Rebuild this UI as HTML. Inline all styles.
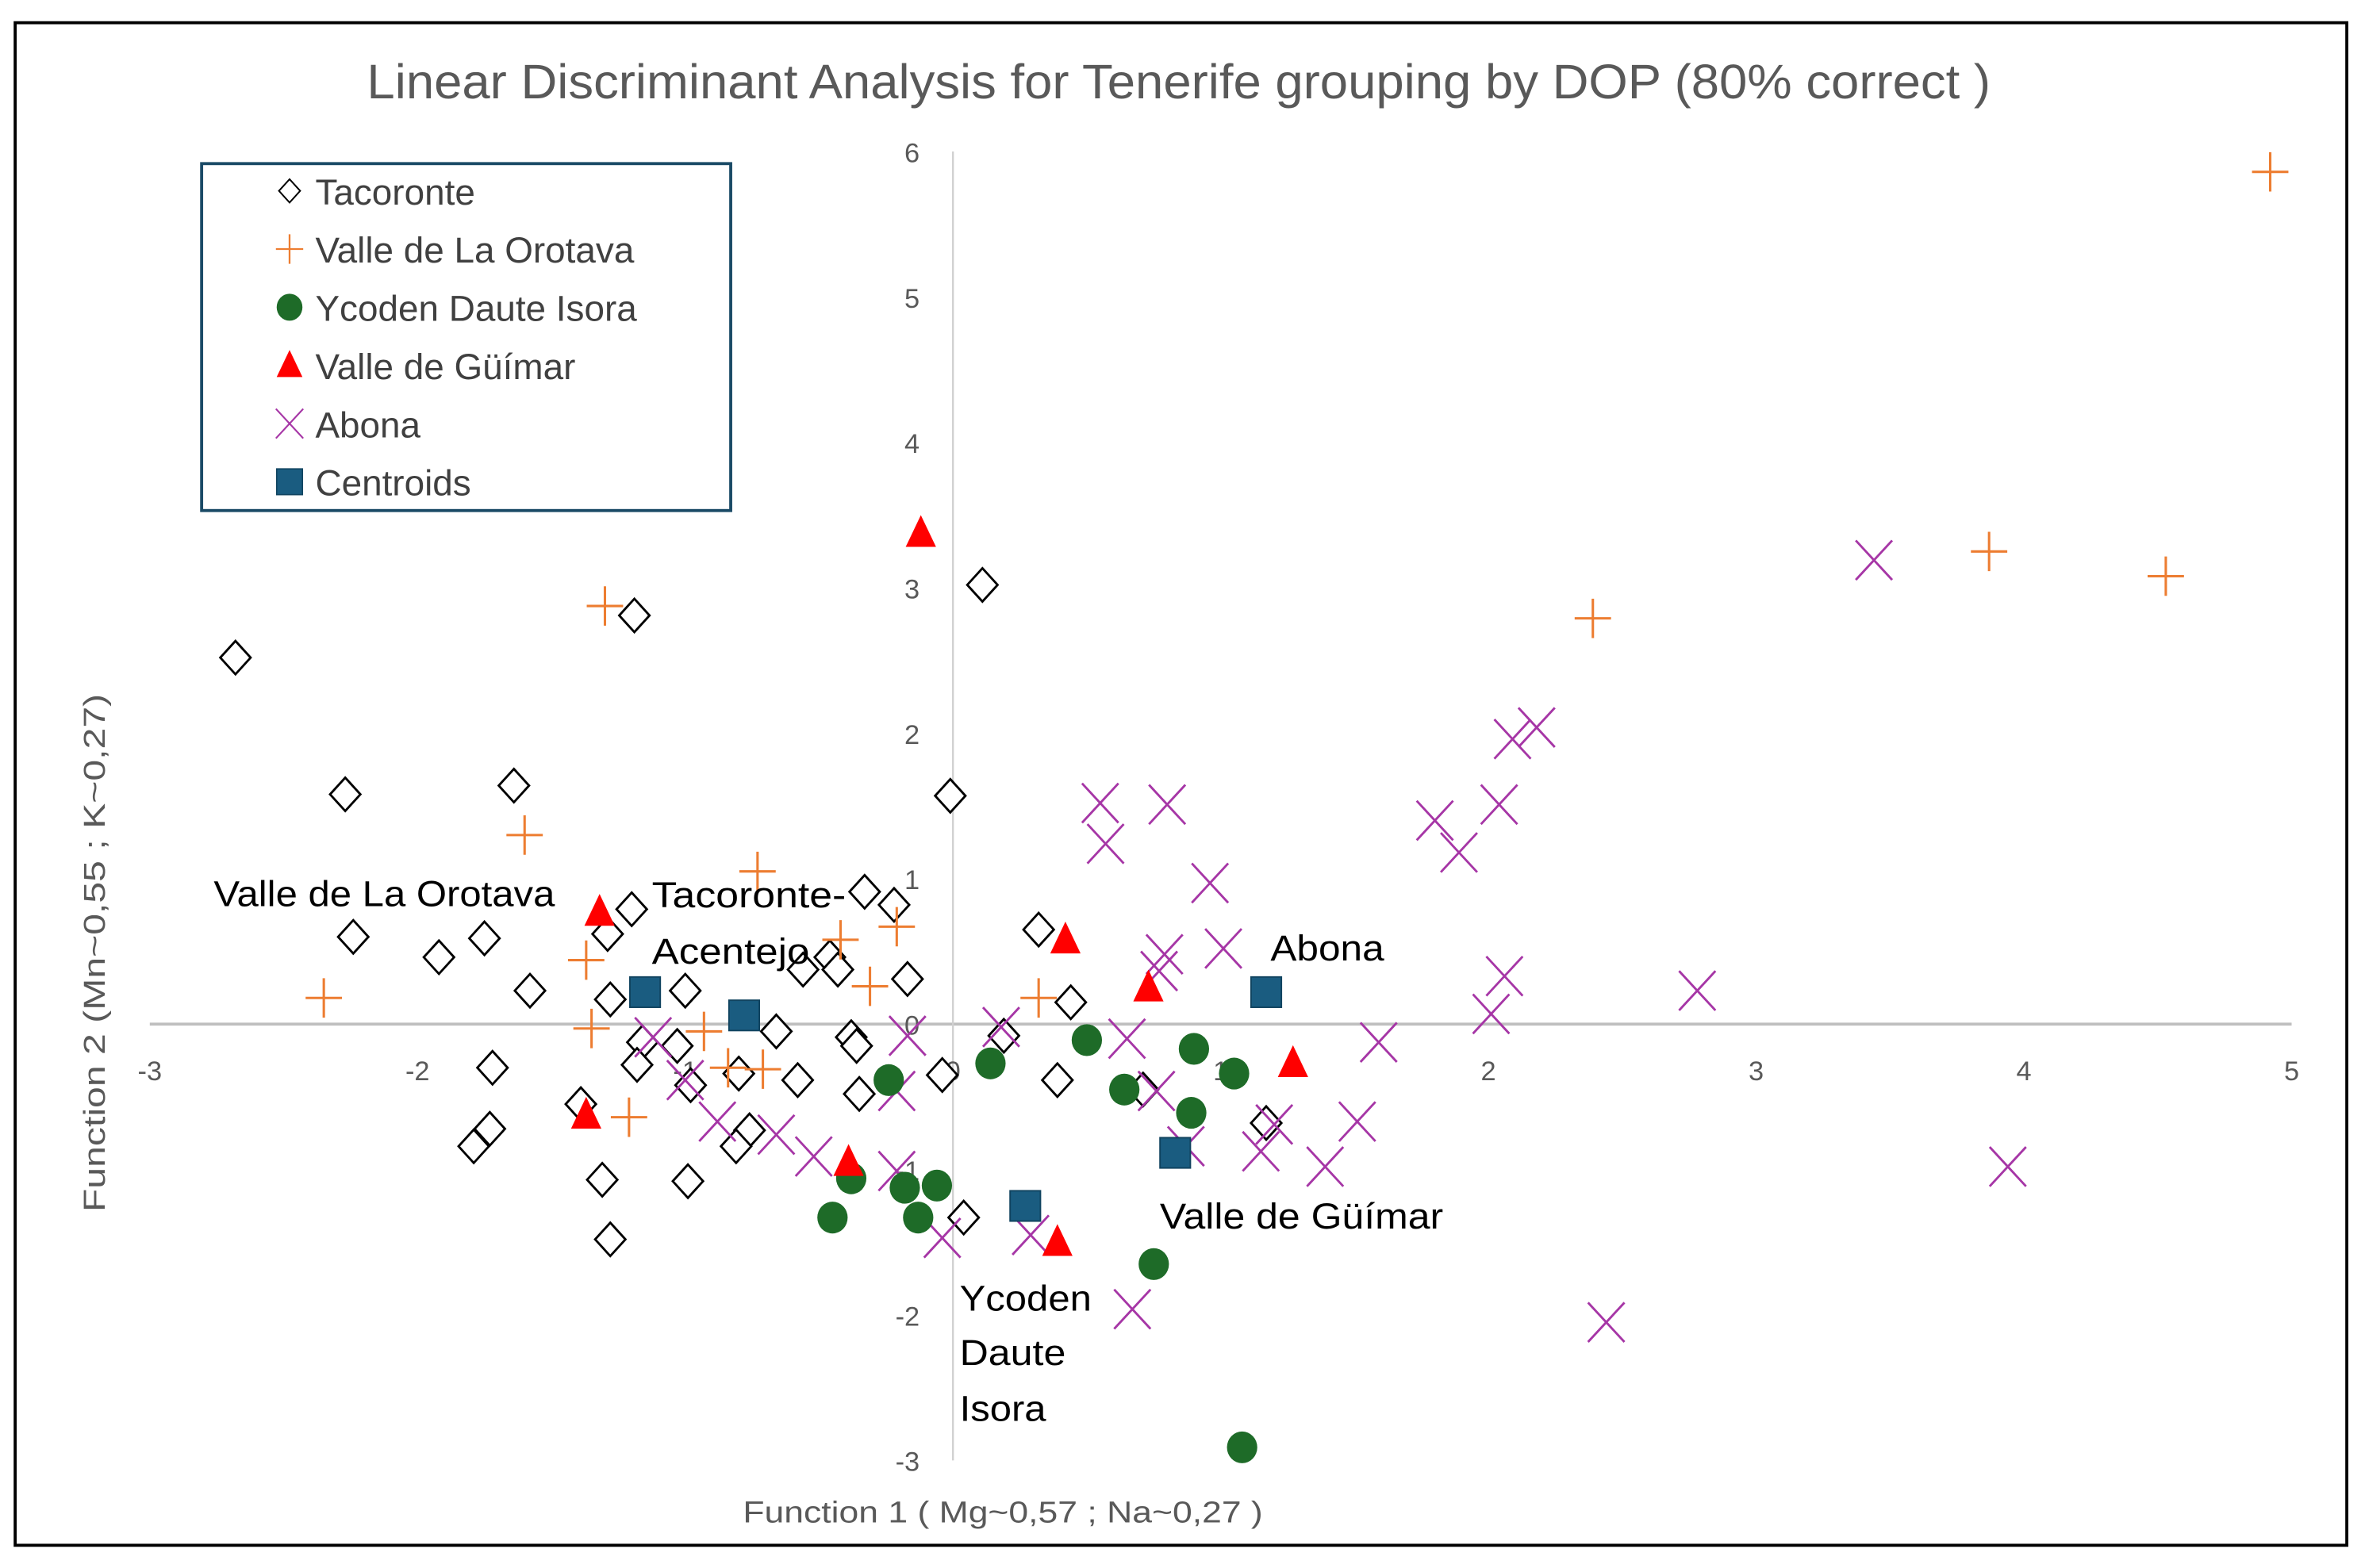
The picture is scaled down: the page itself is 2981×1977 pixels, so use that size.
<!DOCTYPE html>
<html><head><meta charset="utf-8"><style>
html,body{margin:0;padding:0;background:#fff;}
svg{display:block;}
text{font-family:"Liberation Sans",sans-serif;}
</style></head><body>
<svg id="chart" width="2981" height="1977" viewBox="0 0 1560 1035" preserveAspectRatio="none" xmlns="http://www.w3.org/2000/svg">
<rect x="10" y="15" width="1538" height="1005" fill="#fff" stroke="#000" stroke-width="2"/>
<text x="242" y="65" font-size="32" fill="#595959" textLength="1071" lengthAdjust="spacingAndGlyphs">Linear Discriminant Analysis for Tenerife grouping by DOP (80% correct )</text>
<g id="axes"></g>
<g id="marks"></g>
<g id="labels">
<text x="141" y="598" font-size="24" fill="#000" textLength="225" lengthAdjust="spacingAndGlyphs">Valle de La Orotava</text>
<text x="430" y="599" font-size="24" fill="#000" textLength="128" lengthAdjust="spacingAndGlyphs">Tacoronte-</text>
<text x="430" y="636" font-size="24" fill="#000" textLength="104" lengthAdjust="spacingAndGlyphs">Acentejo</text>
<text x="838" y="634" font-size="24" fill="#000" textLength="75" lengthAdjust="spacingAndGlyphs">Abona</text>
<text x="765" y="811" font-size="24" fill="#000" textLength="187" lengthAdjust="spacingAndGlyphs">Valle de Güímar</text>
<text x="633" y="865" font-size="24" fill="#000" textLength="87" lengthAdjust="spacingAndGlyphs">Ycoden</text>
<text x="633" y="901" font-size="24" fill="#000" textLength="70" lengthAdjust="spacingAndGlyphs">Daute</text>
<text x="633" y="938" font-size="24" fill="#000" textLength="57" lengthAdjust="spacingAndGlyphs">Isora</text>
</g>
<text x="490" y="1005" font-size="20" fill="#595959" textLength="343" lengthAdjust="spacingAndGlyphs">Function 1   ( Mg~0,57 ; Na~0,27 )</text>
<text transform="translate(69,800) rotate(-90)" x="0" y="0" font-size="20" fill="#595959" textLength="342" lengthAdjust="spacingAndGlyphs">Function 2   (Mn~0,55 ;   K~0,27)</text>
<g id="legend">
<rect x="133" y="108" width="349" height="229" fill="#fff" stroke="#1a4a66" stroke-width="2"/>
</g>
</svg>
<script>
const xTicks = [-3,-2,-1,0,1,2,3,4,5];
const yTicks = [-3,-2,-1,0,1,2,3,4,5,6];
const seriesNames = ["Tacoronte","Valle de La Orotava","Ycoden Daute Isora","Valle de Güímar","Abona","Centroids"];
const tacoronteX = [-2.68,-2.27,-1.64,-1.19,0.11,-0.01,-2.24,-1.92,-1.75,-1.58,-1.29,-1.20,-1.28,-1.00,-0.33,-0.22,-0.46,-0.43,-0.56,-0.17,0.32,0.44,0.19,-0.66,-1.16,-1.03,-1.18,-0.98,-0.80,-0.58,-0.38,-0.36,-0.35,-0.04,0.39,0.71,1.17,-1.72,-1.39,-1.73,-1.79,-0.76,-0.81,-1.31,-0.99,-1.28,0.04];
const tacoronteY = [2.52,1.58,1.64,2.81,3.02,1.57,0.60,0.46,0.59,0.23,0.62,0.79,0.17,0.23,0.91,0.82,0.46,0.375,0.375,0.31,0.65,0.15,-0.08,-0.05,-0.125,-0.15,-0.28,-0.42,-0.34,-0.385,-0.09,-0.15,-0.48,-0.35,-0.385,-0.45,-0.68,-0.30,-0.55,-0.72,-0.84,-0.73,-0.84,-1.07,-1.08,-1.48,-1.33];
const orotavaX = [4.92,3.87,4.53,2.39,-1.30,-1.60,-0.73,-2.35,-1.37,-0.42,-0.21,-0.31,0.32,-1.35,-0.93,-0.84,-0.71,-1.21];
const orotavaY = [5.86,3.25,3.08,2.79,2.875,1.30,1.05,0.18,0.44,0.58,0.67,0.26,0.18,-0.03,-0.05,-0.30,-0.31,-0.64];
const ycodenX = [0.50,0.14,0.90,0.64,1.05,0.89,-0.24,-0.38,-0.18,-0.06,-0.45,-0.13,0.75,1.08];
const ycodenY = [-0.11,-0.27,-0.17,-0.45,-0.34,-0.61,-0.385,-1.06,-1.125,-1.11,-1.33,-1.33,-1.65,-2.91];
const guimarX = [-0.12,-1.32,0.42,0.73,1.27,-1.37,-0.39,0.39];
const guimarY = [3.375,0.77,0.58,0.25,-0.27,-0.625,-0.95,-1.50];
const abonaX = [3.44,2.09,2.18,1.80,2.04,1.89,0.55,0.80,0.57,0.96,1.01,0.79,0.77,2.06,2.01,2.78,1.59,0.65,0.18,-0.17,0.76,1.20,1.51,1.15,1.39,0.87,3.94,2.44,0.67,0.29,-0.04,-0.21,-0.21,-0.52,-0.66,-0.88,-1.00,-1.12];
const abonaY = [3.19,1.96,2.04,1.40,1.51,1.18,1.52,1.51,1.24,0.97,0.52,0.48,0.365,0.33,0.07,0.23,-0.125,-0.10,-0.02,-0.08,-0.46,-0.69,-0.67,-0.875,-0.98,-0.84,-0.98,-2.05,-1.96,-1.45,-1.47,-1.01,-0.46,-0.91,-0.76,-0.67,-0.385,-0.09];
const centroidX = [-1.15,-0.78,1.17,0.83,0.27];
const centroidY = [0.22,0.06,0.22,-0.885,-1.25];

const NS = "http://www.w3.org/2000/svg";
const X0 = 628.6, XS = 176.6, Y0 = 676, YS = 96;
function sx(v){ return X0 + XS*v; }
function sy(v){ return Y0 - YS*v; }
function mk(tag, attrs, parent){
  const e = document.createElementNS(NS, tag);
  for (const k in attrs) e.setAttribute(k, attrs[k]);
  parent.appendChild(e);
  return e;
}
const axes = document.getElementById('axes');
let l = mk('line',{x1:sx(-3),x2:sx(5),y1:sy(0),y2:sy(0),stroke:'#bfbfbf','stroke-width':2},axes);


l = mk('line',{x1:sx(0),x2:sx(0),y1:sy(6),y2:sy(-3),stroke:'#d0d0d0','stroke-width':1.2},axes);


xTicks.forEach(v=>{
  const t = mk('text',{x:sx(v),y:sy(0)+37,'font-size':18,fill:'#595959','text-anchor':'middle'},axes);
  t.textContent = v;
  
  
});
yTicks.forEach(v=>{
  const t = mk('text',{x:sx(0)-22,y:sy(v)+7,'font-size':18,fill:'#595959','text-anchor':'end'},axes);
  t.textContent = v;
  
  
});

function diamond(g,x,y){ return mk('path',{d:`M${x} ${y-11}L${x+10} ${y}L${x} ${y+11}L${x-10} ${y}Z`,fill:'#fff',stroke:'#000','stroke-width':1.5},g); }
function plus(g,x,y){ return mk('path',{d:`M${x-12} ${y}H${x+12}M${x} ${y-13}V${y+13}`,stroke:'#ed7d31','stroke-width':1.6,fill:'none'},g); }
function circle(g,x,y){ return mk('ellipse',{cx:x,cy:y,rx:10,ry:10.5,fill:'#1e6b28'},g); }
function tri(g,x,y){ return mk('path',{d:`M${x} ${y-12}L${x+10} ${y+9}L${x-10} ${y+9}Z`,fill:'#ff0000'},g); }
function cross(g,x,y){ return mk('path',{d:`M${x-12} ${y-13}L${x+12} ${y+13}M${x+12} ${y-13}L${x-12} ${y+13}`,stroke:'#a636a6','stroke-width':1.5,fill:'none'},g); }
function square(g,x,y){ return mk('rect',{x:x-10,y:y-10,width:20,height:20,fill:'#1a5c80',stroke:'#10435f','stroke-width':1},g); }

const marks = document.getElementById('marks');
function series(xs, ys, fn, name){
  const g = mk('g',{},marks);
  
  
  xs.forEach((v,i)=>{
    const m = fn(g, sx(v), sy(ys[i]));
    
    
  });
}
series(tacoronteX,tacoronteY,diamond,'tacoronte');
series(orotavaX,orotavaY,plus,'orotava');
series(abonaX,abonaY,cross,'abona');
series(ycodenX,ycodenY,circle,'ycoden');
series(guimarX,guimarY,tri,'guimar');
series(centroidX,centroidY,square,'centroid');

const legend = document.getElementById('legend');
const fns = [diamond,plus,circle,tri,cross,square];
const keys = ['tacoronte','orotava','ycoden','guimar','abona','centroids'];
seriesNames.forEach((n,i)=>{
  const y = 126 + i*38.4;
  const g = mk('g',{},legend);
  
  
  const m = fns[i](g,191,y);
  if(i===0) m.setAttribute('transform',`translate(191 ${y}) scale(0.7) translate(-191 ${-y})`);
  if(i===2||i===3||i===5) m.setAttribute('transform',`translate(191 ${y}) scale(0.85) translate(-191 ${-y})`);
  if(i===1||i===4) m.setAttribute('transform',`translate(191 ${y}) scale(0.75) translate(-191 ${-y})`);
  const t = mk('text',{x:208,y:y+9,'font-size':24,fill:'#404040'},g);
  t.textContent = n;
  
  
});
</script>
</body></html>
